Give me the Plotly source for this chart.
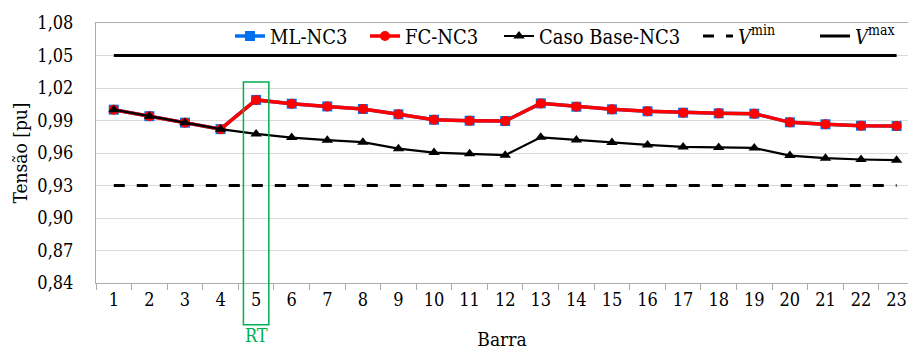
import plotly.graph_objects as go

barras = [str(i) for i in range(1, 24)]
ml_nc3 = [1.000, 0.994, 0.988, 0.982, 1.009, 1.0055, 1.003, 1.0006, 0.9957, 0.9907, 0.9898, 0.9895,
          1.0058, 1.0027, 1.0003, 0.9985, 0.9972, 0.9966, 0.9963, 0.9883, 0.9865, 0.9852, 0.9849]
fc_nc3 = [1.000, 0.994, 0.988, 0.982, 1.009, 1.0055, 1.003, 1.0006, 0.9957, 0.9907, 0.9898, 0.9895,
          1.0058, 1.0027, 1.0003, 0.9985, 0.9972, 0.9966, 0.9963, 0.9883, 0.9865, 0.9852, 0.9849]
caso_base = [1.000, 0.994, 0.988, 0.982, 0.9776, 0.9742, 0.9718, 0.970, 0.964, 0.9604, 0.9592, 0.958,
             0.9745, 0.972, 0.9696, 0.9675, 0.9656, 0.965, 0.9647, 0.9576, 0.9552, 0.954, 0.9534]
v_min = 0.93
v_max = 1.05
y_ticks = [0.84, 0.87, 0.90, 0.93, 0.96, 0.99, 1.02, 1.05, 1.08]
barra_rt = "5"

FONT = "DejaVu Serif Condensed, DejaVu Serif"
GREEN = "#00B050"

fig = go.Figure()
fig.add_trace(go.Scatter(x=barras, y=ml_nc3, name="ML-NC3", mode="lines+markers",
                         line=dict(color="#0070F0", width=3.5), legendwidth=90,
                         marker=dict(symbol="square", size=10, color="#0070F0")))
fig.add_trace(go.Scatter(x=barras, y=fc_nc3, name="FC-NC3", mode="lines+markers",
                         line=dict(color="#FF0000", width=3.5), legendwidth=89,
                         marker=dict(symbol="circle", size=10, color="#FF0000")))
fig.add_trace(go.Scatter(x=barras, y=caso_base, name="Caso Base-NC3", mode="lines+markers",
                         line=dict(color="#000000", width=2.2), legendwidth=154,
                         marker=dict(symbol="triangle-up", size=10, color="#000000")))
fig.add_trace(go.Scatter(x=barras, y=[v_min] * len(barras), name="<i>V</i><sup>min</sup>", mode="lines",
                         line=dict(color="#000000", width=3, dash="11px,12px"), legendwidth=72))
fig.add_trace(go.Scatter(x=barras, y=[v_max] * len(barras), name="<i>V</i><sup>max</sup>", mode="lines",
                         line=dict(color="#000000", width=3)))

idx = barras.index(barra_rt)
fig.add_shape(type="rect", xref="x", yref="paper", x0=idx - 0.357, x1=idx + 0.357,
              y0=-0.161, y1=0.773, line=dict(color=GREEN, width=1.5), fillcolor="rgba(0,0,0,0)")
fig.add_annotation(text="RT", xref="x", yref="paper", x=idx, y=-0.2, yanchor="middle",
                   showarrow=False, font=dict(family=FONT, size=18, color=GREEN))

fig.update_layout(
    template="none",
    width=908, height=350,
    margin=dict(l=96, r=0, t=23, b=67, autoexpand=False),
    paper_bgcolor="white", plot_bgcolor="white",
    separators=",.",
    font=dict(family=FONT, size=18, color="#000000"),
    showlegend=True,
    legend=dict(orientation="h", x=(230 - 96) / 812, xanchor="left", y=0.95, yanchor="middle",
                font=dict(family=FONT, size=20, color="#000000"), bgcolor="rgba(0,0,0,0)",
                traceorder="normal", borderwidth=0),
    xaxis=dict(type="category", range=[-0.5, 22.32], tickson="boundaries", automargin=False,
               showline=True, linecolor="#ABABAB", linewidth=1, mirror=True,
               ticks="outside", ticklen=6, tickcolor="#ABABAB", tickwidth=1, showgrid=False,
               zeroline=False,
               tickfont=dict(family=FONT, size=18, color="#000000"),
               title=dict(text="Barra", font=dict(family=FONT, size=19, color="#000000"), standoff=25)),
    yaxis=dict(range=[0.84, 1.08], tickvals=y_ticks, tickformat=".2f", automargin=False,
               showline=True, linecolor="#ABABAB", linewidth=1,
               showgrid=True, gridcolor="#D9D9D9", gridwidth=1, zeroline=False,
               ticks="", ticklabelstandoff=18,
               tickfont=dict(family=FONT, size=18, color="#000000"),
               title=dict(text="Tensão [pu]", font=dict(family=FONT, size=19, color="#000000"), standoff=4)),
)

fig.write_html("out.html")
